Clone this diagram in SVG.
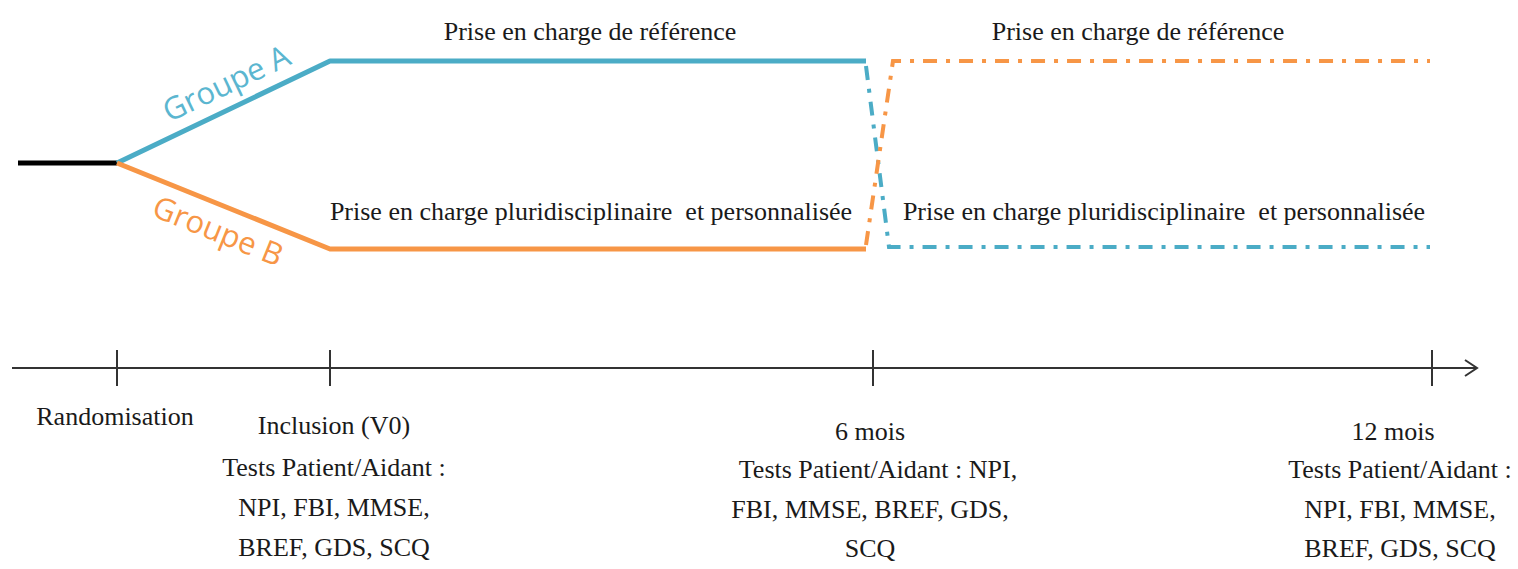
<svg xmlns="http://www.w3.org/2000/svg" width="1518" height="569" viewBox="0 0 1518 569">
<style>
.lbl{font-family:"Liberation Serif","Times New Roman",serif;font-size:26px;fill:#1a1a1a;text-anchor:middle}
.grp{font-family:"Open Sans","Liberation Sans",sans-serif;font-size:31px;text-anchor:middle}
.solid{fill:none;stroke-width:5;stroke-linejoin:round}
.dash{fill:none;stroke-width:4;stroke-dasharray:14 9 4 9}
.blue{stroke:#4BACC6}
.orange{stroke:#F79646}
.axis{stroke:#333;stroke-width:2;fill:none}
</style>
<defs>
<marker id="arr" markerWidth="16" markerHeight="20" refX="14" refY="10" orient="auto" markerUnits="userSpaceOnUse">
<path d="M2,2 L14,10 L2,18" fill="none" stroke="#333" stroke-width="2"/>
</marker>
</defs>
<rect width="1518" height="569" fill="#fff"/>
<g id="connectors">
<line x1="18" y1="163" x2="117" y2="163" stroke="#000" stroke-width="5"/>
<polyline class="solid blue" points="117,163 330,61 866,61"/>
<polyline class="solid orange" points="117,163 330,249 866,249"/>
<polyline class="dash blue" points="866,66 889,247 1430,247"/>
<polyline class="dash orange" points="866,245 893,61 1430,61"/>
<line class="axis" x1="12" y1="368" x2="1477" y2="368" marker-end="url(#arr)"/>
<line class="axis" x1="117" y1="350" x2="117" y2="386"/>
<line class="axis" x1="330" y1="350" x2="330" y2="386"/>
<line class="axis" x1="873" y1="350" x2="873" y2="386"/>
<line class="axis" x1="1432" y1="350" x2="1432" y2="386"/>
</g>
<g id="groupeA"><text class="grp" fill="#5BB6D0" x="231" y="93" transform="rotate(-25.6 231 93)">Groupe A</text></g>
<g id="groupeB"><text class="grp" fill="#F79646" x="214" y="241" transform="rotate(22 214 241)">Groupe B</text></g>
<g id="ref1"><text class="lbl" x="590" y="40">Prise en charge de référence</text></g>
<g id="ref2"><text class="lbl" x="1138" y="40">Prise en charge de référence</text></g>
<g id="pluri1"><text class="lbl" x="591" y="220">Prise en charge pluridisciplinaire&#160; et personnalisée</text></g>
<g id="pluri2"><text class="lbl" x="1164" y="220">Prise en charge pluridisciplinaire&#160; et personnalisée</text></g>
<g id="randomisation"><text class="lbl" x="115" y="425">Randomisation</text></g>
<g id="inclusion"><text class="lbl"><tspan x="334" y="434">Inclusion (V0)</tspan><tspan x="334" y="476">Tests Patient/Aidant :</tspan><tspan x="334" y="516">NPI, FBI, MMSE,</tspan><tspan x="334" y="556">BREF, GDS, SCQ</tspan></text></g>
<g id="mois6"><text class="lbl"><tspan x="870" y="440">6 mois</tspan><tspan x="878" y="478">Tests Patient/Aidant : NPI,</tspan><tspan x="870" y="518">FBI, MMSE, BREF, GDS,</tspan><tspan x="870" y="557">SCQ</tspan></text></g>
<g id="mois12"><text class="lbl"><tspan x="1393" y="440">12 mois</tspan><tspan x="1400" y="478">Tests Patient/Aidant :</tspan><tspan x="1400" y="518">NPI, FBI, MMSE,</tspan><tspan x="1400" y="557">BREF, GDS, SCQ</tspan></text></g>
</svg>
